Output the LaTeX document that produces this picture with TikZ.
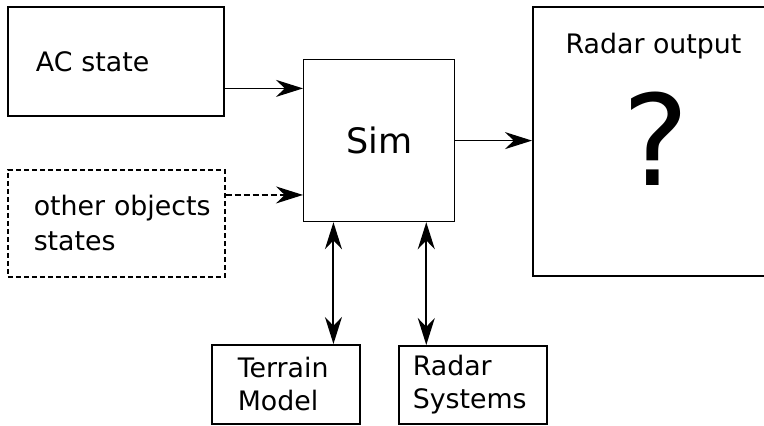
\documentclass[tikz,border=0pt]{standalone}
\usepackage{fontspec}
\setmainfont{DejaVu Sans}
\usetikzlibrary{arrows.meta,calc}

\begin{document}
\begin{tikzpicture}[x=0.5pt,y=-0.5pt,
	box/.style={draw,rectangle,line width=0.9pt,anchor=north west,inner sep=0pt,align=left,font=\fontsize{13.4}{16.5}\selectfont},
	dashbox/.style={box,line width=0.75pt,dash pattern=on 2.5pt off 1.5pt},
	flow/.style={-{Stealth[length=13.5pt,width=8.5pt]},line width=0.65pt},
	biflow/.style={{Stealth[length=13.5pt,width=8.5pt]}-{Stealth[length=13.5pt,width=8.5pt]},line width=1pt}]
	
	% Fix the page to the size of the original picture.
	\useasboundingbox (0,0) rectangle (764,425);
	
	% Inputs on the left
	\node[box,minimum width=108pt,minimum height=54.5pt,text width=80pt] (acstate) at (7,6) {AC state};
	\node[dashbox,minimum width=108.5pt,minimum height=53.5pt,text width=82.5pt,font=\fontsize{13.4}{17.5}\selectfont] (objstates) at (7,169) {\mbox{other objects}\\states};
	
	% Simulator in the middle
	\node[box,line width=0.6pt,minimum width=75.5pt,minimum height=81pt,align=center,font=\fontsize{17.5}{21}\selectfont] (sim) at (303,59) {Sim};
	
	% Output on the right (runs off the page on purpose)
	\node[box,minimum width=120pt,minimum height=134.5pt] (radarout) at (532,6) {};
	\node[anchor=base,font=\fontsize{13.4}{16.5}\selectfont] (radartitle) at ($(radarout.north west)+(121.5,47)$) {Radar output};
	\node[anchor=base,font=\fontsize{63}{63}\selectfont] (radarq) at ($(radarout.north west)+(124,179)$) {?};
	
	% Models below
	\node[box,line width=0.75pt,minimum width=74pt,minimum height=39.5pt,text width=48pt] (terrain) at (211,344) {Terrain\\Model};
	\node[box,line width=0.75pt,minimum width=74pt,minimum height=39pt,text width=60pt] (radarsys) at (398,345) {Radar\\Systems};
	
	% Connections
	\coordinate (acin) at ($(sim.north west)!0.18!(sim.south west)$);
	\coordinate (objin) at ($(sim.north west)!0.833!(sim.south west)$);
	\coordinate (terrainio) at ($(sim.south west)!0.2!(sim.south east)$);
	\coordinate (radario) at ($(sim.south west)!0.81!(sim.south east)$);
	
	\draw[flow] (acstate.east |- acin) -- (acin);
	\draw[flow,dash pattern=on 3pt off 1.5pt] (objstates.east |- objin) -- (objin);
	\draw[flow] (sim.east) -- (sim.east -| radarout.west);
	\draw[biflow] (terrainio) -- (terrainio |- terrain.north);
	\draw[biflow] (radario) -- (radario |- radarsys.north);
	
\end{tikzpicture}
\end{document}
